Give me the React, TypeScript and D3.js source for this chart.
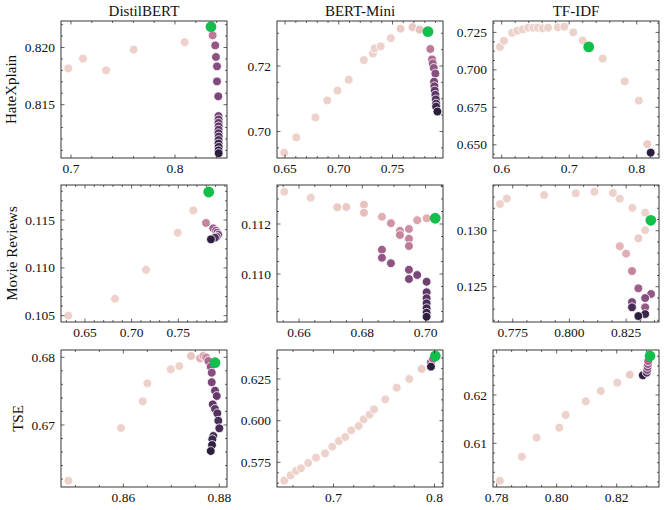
import React from 'react';
import * as d3 from 'd3';

const models = ['DistilBERT', 'BERT-Mini', 'TF-IDF'];
const datasets = ['HateXplain', 'Movie Reviews', 'TSE'];

// [x, y, hue]
const distilHateXplain = [
  [0.6974, 0.81817, 0], [0.7115, 0.81903, 0], [0.7337, 0.818, 0], [0.7603, 0.81982, 0], [0.8093, 0.82047, 0],
  [0.8362, 0.82106, 0.4], [0.8387, 0.82018, 0.6], [0.8394, 0.81917, 0.62], [0.8404, 0.81835, 0.65],
  [0.8404, 0.81703, 0.68], [0.8416, 0.81573, 0.7],
  [0.8418, 0.814, 0.74], [0.8419, 0.8137, 0.76], [0.8418, 0.8134, 0.78], [0.842, 0.8131, 0.8],
  [0.8419, 0.8128, 0.82], [0.8418, 0.8125, 0.85], [0.842, 0.8122, 0.88], [0.8419, 0.8119, 0.9],
  [0.8418, 0.8116, 0.93], [0.842, 0.8113, 0.95], [0.8419, 0.811, 0.98], [0.842, 0.81075, 1],
];
const bertMiniHateXplain = [
  [0.6493, 0.6935, 0], [0.6604, 0.6982, 0], [0.6783, 0.7043, 0], [0.6893, 0.7095, 0], [0.6988, 0.7125, 0],
  [0.7092, 0.7158, 0], [0.7233, 0.7218, 0], [0.7318, 0.7238, 0], [0.7333, 0.7254, 0], [0.739, 0.726, 0],
  [0.7484, 0.7285, 0], [0.7575, 0.7314, 0.02], [0.7686, 0.7319, 0.04], [0.7752, 0.7311, 0.06],
  [0.7852, 0.7252, 0.4], [0.7868, 0.722, 0.5], [0.7874, 0.7208, 0.55], [0.7884, 0.7194, 0.6],
  [0.7899, 0.7177, 0.65], [0.7887, 0.7152, 0.7], [0.789, 0.7138, 0.75], [0.7893, 0.7125, 0.8],
  [0.7899, 0.7112, 0.82], [0.7903, 0.7098, 0.85], [0.7906, 0.7085, 0.9], [0.7906, 0.7076, 0.95],
  [0.7918, 0.7061, 1],
];
const tfidfHateXplain = [
  [0.5975, 0.7153, 0], [0.6034, 0.7194, 0], [0.6153, 0.7247, 0], [0.6231, 0.7261, 0], [0.6311, 0.727, 0],
  [0.639, 0.7281, 0], [0.6468, 0.7281, 0], [0.6533, 0.7281, 0], [0.6607, 0.7277, 0], [0.6686, 0.7281, 0],
  [0.683, 0.7284, 0], [0.6928, 0.7288, 0], [0.7061, 0.725, 0], [0.72, 0.7196, 0], [0.7496, 0.7075, 0],
  [0.7822, 0.6923, 0], [0.803, 0.6795, 0], [0.8157, 0.6504, 0.02], [0.8207, 0.6448, 1],
];
const distilMovie = [
  [0.6321, 0.105, 0], [0.6822, 0.10677, 0], [0.7154, 0.1098, 0], [0.7494, 0.11367, 0], [0.7661, 0.11601, 0],
  [0.7797, 0.11469, 0.35], [0.7875, 0.11413, 0.55], [0.7904, 0.11388, 0.6], [0.7918, 0.11367, 0.65],
  [0.7929, 0.11346, 0.7], [0.7911, 0.11325, 0.75], [0.7893, 0.11315, 0.85], [0.785, 0.11298, 1],
];
const bertMiniMovie = [
  [0.65536, 0.11329, 0], [0.66369, 0.11305, 0], [0.67209, 0.11267, 0.03], [0.67494, 0.11268, 0.03],
  [0.68052, 0.11277, 0.06], [0.68052, 0.11245, 0.08], [0.68621, 0.11229, 0.15], [0.68905, 0.11203, 0.28],
  [0.69189, 0.11173, 0.3], [0.69189, 0.11156, 0.35], [0.69474, 0.1118, 0.3], [0.69474, 0.11141, 0.35],
  [0.69474, 0.11112, 0.4], [0.69735, 0.11215, 0.2], [0.70032, 0.11223, 0.15],
  [0.68621, 0.11097, 0.55], [0.68621, 0.11065, 0.6], [0.68905, 0.11043, 0.62], [0.69474, 0.11017, 0.65],
  [0.69474, 0.1098, 0.7], [0.69735, 0.10996, 0.7], [0.70032, 0.10969, 0.75],
  [0.70032, 0.10927, 0.8], [0.70032, 0.10903, 0.84], [0.70032, 0.10883, 0.88], [0.70032, 0.10863, 0.92],
  [0.70032, 0.10845, 0.96], [0.70032, 0.10829, 1],
];
const tfidfMovie = [
  [0.7694, 0.13238, 0], [0.7724, 0.13286, 0], [0.7888, 0.13319, 0], [0.8028, 0.13334, 0], [0.811, 0.13348, 0],
  [0.8192, 0.13337, 0], [0.8222, 0.13286, 0], [0.8278, 0.13203, 0], [0.8334, 0.13161, 0], [0.8334, 0.13004, 0],
  [0.8304, 0.12932, 0.02], [0.8222, 0.12861, 0.12], [0.825, 0.12795, 0.15], [0.8276, 0.1264, 0.35],
  [0.8304, 0.12486, 0.55], [0.836, 0.12435, 0.6], [0.8334, 0.12399, 0.65], [0.8276, 0.12363, 0.7],
  [0.8334, 0.12316, 0.6], [0.8276, 0.12316, 0.9], [0.8334, 0.12256, 0.95], [0.8304, 0.12238, 1],
];
const distilTSE = [
  [0.84854, 0.66176, 0], [0.85952, 0.66955, 0], [0.86404, 0.6735, 0], [0.865, 0.67616, 0], [0.86988, 0.67823, 0],
  [0.87167, 0.67871, 0], [0.8741, 0.68019, 0.05], [0.87598, 0.67985, 0.15], [0.87667, 0.68019, 0.2],
  [0.87723, 0.68, 0.3], [0.87771, 0.67945, 0.5], [0.87821, 0.67861, 0.6], [0.87842, 0.67772, 0.65],
  [0.87842, 0.67631, 0.7], [0.8791, 0.67507, 0.75], [0.87946, 0.67428, 0.78], [0.87863, 0.67305, 0.8],
  [0.8791, 0.67236, 0.82], [0.87958, 0.67172, 0.85], [0.87979, 0.67063, 0.87], [0.88, 0.66951, 0.9],
  [0.87875, 0.66837, 0.92], [0.87854, 0.66788, 0.94], [0.87848, 0.66704, 0.97], [0.87821, 0.66615, 1],
];
const bertMiniTSE = [
  [0.6513, 0.564, 0], [0.6576, 0.5672, 0], [0.6629, 0.5698, 0], [0.6678, 0.5714, 0], [0.675, 0.5746, 0],
  [0.6827, 0.5778, 0], [0.6916, 0.5804, 0], [0.6988, 0.5844, 0], [0.7054, 0.5878, 0], [0.7117, 0.5902, 0],
  [0.7176, 0.5942, 0], [0.7249, 0.5968, 0], [0.7299, 0.6008, 0], [0.7358, 0.6036, 0], [0.7401, 0.6068, 0],
  [0.7513, 0.6128, 0], [0.7626, 0.6198, 0], [0.775, 0.625, 0], [0.7873, 0.631, 0.03],
  [0.7965, 0.6352, 0.6], [0.7985, 0.637, 0.5], [0.7965, 0.6324, 1],
];
const tfidfTSE = [
  [0.7811, 0.60227, 0], [0.7884, 0.60723, 0], [0.7933, 0.61117, 0], [0.8009, 0.61323, 0], [0.803, 0.61586, 0],
  [0.8097, 0.61869, 0], [0.8147, 0.62083, 0], [0.8202, 0.62255, 0], [0.8244, 0.6242, 0.03],
  [0.8287, 0.62408, 1], [0.83, 0.6246, 0.8], [0.8302, 0.6252, 0.7], [0.8303, 0.6258, 0.65],
  [0.8304, 0.6264, 0.6], [0.8305, 0.627, 0.5],
];

// highlighted (green) points, row-major order
const highlightPoints = [
  [0.8346, 0.82182], [0.783, 0.7305], [0.7289, 0.7153],
  [0.7826, 0.11793], [0.70304, 0.11223], [0.8359, 0.13093],
  [0.8791, 0.6792], [0.8008, 0.6388], [0.8311, 0.62807],
];

const panelData = [
  distilHateXplain, bertMiniHateXplain, tfidfHateXplain,
  distilMovie, bertMiniMovie, tfidfMovie,
  distilTSE, bertMiniTSE, tfidfTSE,
];

// axis ranges and ticks
const xDomains = [
  [0.6904, 0.85], [0.6425, 0.797], [0.5871, 0.833],
  [0.6243, 0.8022], [0.65305, 0.7055], [0.7663, 0.8395],
  [0.847, 0.8816], [0.6441, 0.8084], [0.7788, 0.8341],
];
const yDomains = [
  [0.81033, 0.82232], [0.6919, 0.73375], [0.6412, 0.7326],
  [0.10434, 0.11866], [0.10808, 0.11356], [0.12185, 0.13408],
  [0.66083, 0.68108], [0.5602, 0.6424], [0.60096, 0.62931],
];
const xTickValues = [
  [0.7, 0.8], [0.65, 0.7, 0.75], [0.6, 0.7, 0.8],
  [0.65, 0.7, 0.75], [0.66, 0.68, 0.7], [0.775, 0.8, 0.825],
  [0.86, 0.88], [0.7, 0.8], [0.78, 0.8, 0.82],
];
const xTickDecimals = [1, 2, 1, 2, 2, 3, 2, 1, 2];
const xMinorSteps = [0.02, 0.01, 0.02, 0.01, 0.005, 0.00625, 0.005, 0.02, 0.005];
const yTickValues = [
  [0.815, 0.82], [0.7, 0.72], [0.65, 0.675, 0.7, 0.725],
  [0.105, 0.11, 0.115], [0.11, 0.112], [0.125, 0.13],
  [0.67, 0.68], [0.575, 0.6, 0.625], [0.61, 0.62],
];
const yTickDecimals = [3, 2, 3, 3, 3, 3, 2, 3, 2];
const yMinorSteps = [0.001, 0.005, 0.00625, 0.001, 0.0005, 0.001, 0.002, 0.00625, 0.002];

const W = 664, H = 510;
const colLeft = [61, 277, 493];
const rowTop = [21, 185, 350];
const PW = 166, PH = 137;
const ylabelX = [16, 17, 23];
const FONT = '"Liberation Serif", "DejaVu Serif", serif';
const GREEN = '#13bf4b';

function cubehelixColor(v: number) {
  const x = 0.85 - 0.7 * v;
  const start = 0, rot = 0.4, hue = 0.8;
  const a = hue * x * (1 - x) / 2;
  const phi = 2 * Math.PI * (start / 3 + rot * x);
  const c = Math.cos(phi), s = Math.sin(phi);
  const cl = (t: number) => Math.max(0, Math.min(1, t)) * 255;
  const r = x + a * (-0.14861 * c + 1.78277 * s);
  const g = x + a * (-0.29227 * c - 0.90649 * s);
  const b = x + a * (1.97294 * c);
  return d3.rgb(cl(r), cl(g), cl(b)).formatHex();
}

function minorTicks(domain: number[], step: number, majors: number[]) {
  const out: number[] = [];
  const s = Math.ceil(domain[0] / step - 1e-9);
  for (let k = s; k * step <= domain[1] + 1e-12; k++) {
    const v = k * step;
    if (majors.some(m => Math.abs(m - v) < step * 0.01)) continue;
    out.push(v);
  }
  return out;
}

function Panel({ idx }: { idx: number }) {
  const r = Math.floor(idx / 3), c = idx % 3;
  const x0 = colLeft[c], y0 = rowTop[r];
  const xs = d3.scaleLinear().domain(xDomains[idx]).range([x0, x0 + PW]);
  const ys = d3.scaleLinear().domain(yDomains[idx]).range([y0 + PH, y0]);
  const xMaj = xTickValues[idx], yMaj = yTickValues[idx];
  const xMin = minorTicks(xDomains[idx], xMinorSteps[idx], xMaj);
  const yMin = minorTicks(yDomains[idx], yMinorSteps[idx], yMaj);
  const maj = 3.5, mnr = 2;
  const tickStroke = { stroke: '#222', strokeWidth: 0.7 };
  const pts = panelData[idx];
  const hp = highlightPoints[idx];
  return (
    <g>
      <defs>
        <clipPath id={`clip${idx}`}>
          <rect x={x0} y={y0} width={PW} height={PH} />
        </clipPath>
      </defs>
      <g clipPath={`url(#clip${idx})`}>
        {pts.map((p, i) => (
          <circle key={i} cx={xs(p[0])} cy={ys(p[1])} r={4.4}
            fill={cubehelixColor(p[2])} stroke="#fff" strokeWidth={0.8} />
        ))}
        <circle cx={xs(hp[0])} cy={ys(hp[1])} r={5.4} fill={GREEN} />
      </g>
      {xMaj.map((v, i) => (
        <g key={'xM' + i}>
          <line x1={xs(v)} x2={xs(v)} y1={y0 + PH} y2={y0 + PH - maj} {...tickStroke} />
          <line x1={xs(v)} x2={xs(v)} y1={y0} y2={y0 + maj} {...tickStroke} />
          <text x={xs(v)} y={y0 + PH + 15} textAnchor="middle" fontSize={13.5} fontFamily={FONT} fill="#111">
            {v.toFixed(xTickDecimals[idx])}
          </text>
        </g>
      ))}
      {xMin.map((v, i) => (
        <g key={'xm' + i}>
          <line x1={xs(v)} x2={xs(v)} y1={y0 + PH} y2={y0 + PH - mnr} {...tickStroke} />
          <line x1={xs(v)} x2={xs(v)} y1={y0} y2={y0 + mnr} {...tickStroke} />
        </g>
      ))}
      {yMaj.map((v, i) => (
        <g key={'yM' + i}>
          <line x1={x0} x2={x0 + maj} y1={ys(v)} y2={ys(v)} {...tickStroke} />
          <line x1={x0 + PW} x2={x0 + PW - maj} y1={ys(v)} y2={ys(v)} {...tickStroke} />
          <text x={x0 - 6} y={ys(v) + 4.6} textAnchor="end" fontSize={13.5} fontFamily={FONT} fill="#111">
            {v.toFixed(yTickDecimals[idx])}
          </text>
        </g>
      ))}
      {yMin.map((v, i) => (
        <g key={'ym' + i}>
          <line x1={x0} x2={x0 + mnr} y1={ys(v)} y2={ys(v)} {...tickStroke} />
          <line x1={x0 + PW} x2={x0 + PW - mnr} y1={ys(v)} y2={ys(v)} {...tickStroke} />
        </g>
      ))}
      <rect x={x0} y={y0} width={PW} height={PH} fill="none" stroke="#222" strokeWidth={0.9} />
    </g>
  );
}

export default function App() {
  return (
    <svg width={W} height={H} style={{ position: 'absolute', left: 0, top: 0, background: '#fff' }}>
      <rect x={0} y={0} width={W} height={H} fill="#fff" />
      {models.map((m, c) => (
        <text key={m} x={colLeft[c] + PW / 2} y={16} textAnchor="middle" fontSize={15} fontFamily={FONT} fill="#111">
          {m}
        </text>
      ))}
      {datasets.map((d, r) => (
        <text key={d} transform={`translate(${ylabelX[r]},${rowTop[r] + PH / 2}) rotate(-90)`}
          textAnchor="middle" fontSize={15} fontFamily={FONT} fill="#111">
          {d}
        </text>
      ))}
      {d3.range(9).map(i => <Panel key={i} idx={i} />)}
    </svg>
  );
}
